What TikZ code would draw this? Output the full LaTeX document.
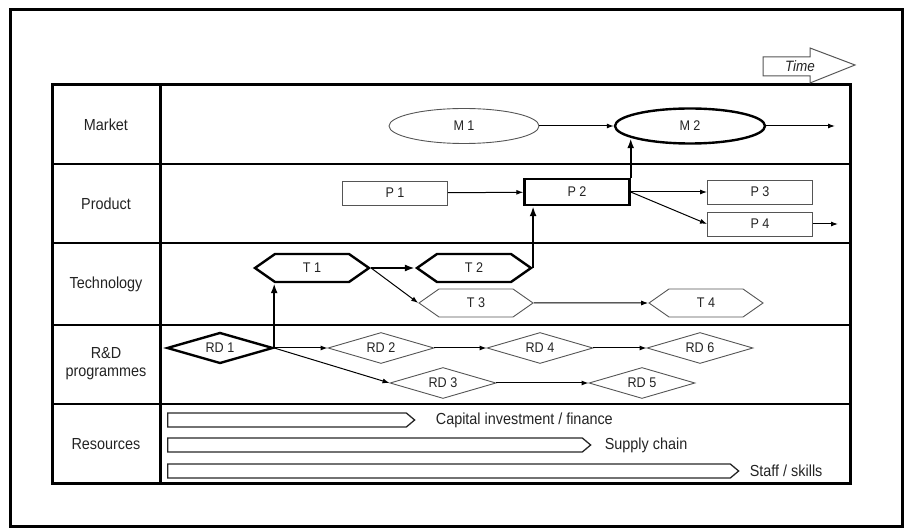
\documentclass[tikz,border=0pt]{standalone}
\usepackage{fontspec}
\setmainfont{Liberation Sans}[FakeStretch=0.9]
\usepackage{tikz}
\usetikzlibrary{arrows.meta,positioning,shapes.geometric,shapes.symbols}
\definecolor{ink}{RGB}{35,35,35}
\definecolor{edge}{RGB}{85,85,85}

\begin{document}
\begin{tikzpicture}[x=1pt,y=-1pt,>={Latex[length=7pt,width=5pt]},
    lbl/.style={font=\fontsize{16}{18}\selectfont,text=ink,align=center},
    tag/.style={font=\fontsize{14}{15}\selectfont,text=ink,inner sep=0pt},
    oval/.style={tag,ellipse,draw=edge,line width=0.9pt,minimum width=150pt,minimum height=35pt},
    box/.style={tag,rectangle,draw=edge,line width=0.9pt,minimum width=105pt,minimum height=24pt},
    hexa/.style={tag,signal,signal to=east and west,signal pointer angle=70,draw=edge,line width=0.9pt,minimum width=114pt,minimum height=28pt},
    dia/.style={tag,diamond,aspect=3.5,draw=edge,line width=0.9pt,minimum width=106pt,minimum height=31pt},
    keyline/.style={draw=black,line width=2.4pt},
    resbar/.style={signal,signal to=east,signal pointer angle=80,draw=black!85,line width=1.3pt,minimum height=14pt,inner sep=0pt,anchor=west},
    link/.style={line width=1pt,->},
    bigarrow/.style={line width=2.4pt,-{Latex[length=10pt,width=7pt]}}]
  \useasboundingbox (0,0) rectangle (906,529);

  % frame and grid
  \draw[line width=3pt] (10,10) rectangle (902,527);
  \draw[line width=3pt] (52,85) rectangle (850,484);
  \draw[line width=3pt] (160,85) -- (160,484);
  \foreach \y in {164,243,325,404}
    \draw[line width=2.5pt] (52,\y) -- (850,\y);

  % time arrow
  \draw[draw=edge,line width=1pt] (763,57) -- (810,57) -- (810,48) -- (855,65)
      -- (810,83) -- (810,76) -- (763,76) -- cycle;
  \node[lbl,font=\fontsize{15}{16}\selectfont\itshape] (time) at (800,66) {Time};

  % row names
  \node[lbl] (market) at (106,125) {Market};
  \node[lbl] (product) at (106,204) {Product};
  \node[lbl] (techno) at (106,284) {Technology};
  \node[lbl] (rdprog) at (106,364) {R\&D\\programmes};
  \node[lbl] (resour) at (106,444) {Resources};

  % market
  \node[oval] (M1) at (464,126) {M 1};
  \node[oval,keyline] (M2) at (690,126) {M 2};
  \coordinate (mout) at (835,126);

  % product
  \node[box] (P1) at (395,193) {P 1};
  \node[box,keyline,minimum height=26pt] (P2) at (577,192) {P 2};
  \node[box] (P3) at (760,192) {P 3};
  \node[box] (P4) at (760,224) {P 4};
  \coordinate (pout) at (838,224);

  % technology
  \node[hexa,keyline] (T1) at (312,268) {T 1};
  \node[hexa,keyline] (T2) at (474,268) {T 2};
  \node[hexa] (T3) at (476,303) {T 3};
  \node[hexa] (T4) at (706,303) {T 4};

  % R&D programmes
  \node[dia,keyline] (RD1) at (220,348) {RD 1};
  \node[dia] (RD2) at (381,348) {RD 2};
  \node[dia] (RD4) at (540,348) {RD 4};
  \node[dia] (RD6) at (700,348) {RD 6};
  \node[dia] (RD3) at (443,383) {RD 3};
  \node[dia] (RD5) at (642,383) {RD 5};

  % resources
  \node[resbar,minimum width=247pt] (cap) at (167,420) {};
  \node[resbar,minimum width=423pt] (sup) at (167,445) {};
  \node[resbar,minimum width=571pt] (staff) at (167,471) {};
  \node[lbl,inner sep=0pt,right=20pt of cap] (caplbl) {Capital investment / finance};
  \node[lbl,inner sep=0pt,right=13pt of sup] (suplbl) {Supply chain};
  \node[lbl,inner sep=0pt,right=10pt of staff] (stafflbl) {Staff / skills};

  % links
  \draw[link] (M1) -- (M2);
  \draw[link] (M2) -- (mout);
  \draw[link] (P1) -- (P2);
  \draw[link] (P2.east) -- (P3.west);
  \draw[link] (P2.east) -- (P4.west);
  \draw[link] (P4) -- (pout);
  \draw[link] (T1.east) -- (T3.west);
  \draw[link] (T3) -- (T4);
  \draw[link] (RD1.east) -- (RD2.west);
  \draw[link] (RD2) -- (RD4);
  \draw[link] (RD4) -- (RD6);
  \draw[link] (RD1.east) -- (RD3.west);
  \draw[link] (RD3) -- (RD5);

  % critical path
  \draw[bigarrow] (RD1.east) -- (RD1.east |- T1.south);
  \draw[bigarrow] (T1.east) -- (T2.west);
  \draw[bigarrow] (T2.east) -- (T2.east |- P2.south);
  \draw[bigarrow] (P2.north east) -- (P2.north east |- M2.192);
\end{tikzpicture}
\end{document}
